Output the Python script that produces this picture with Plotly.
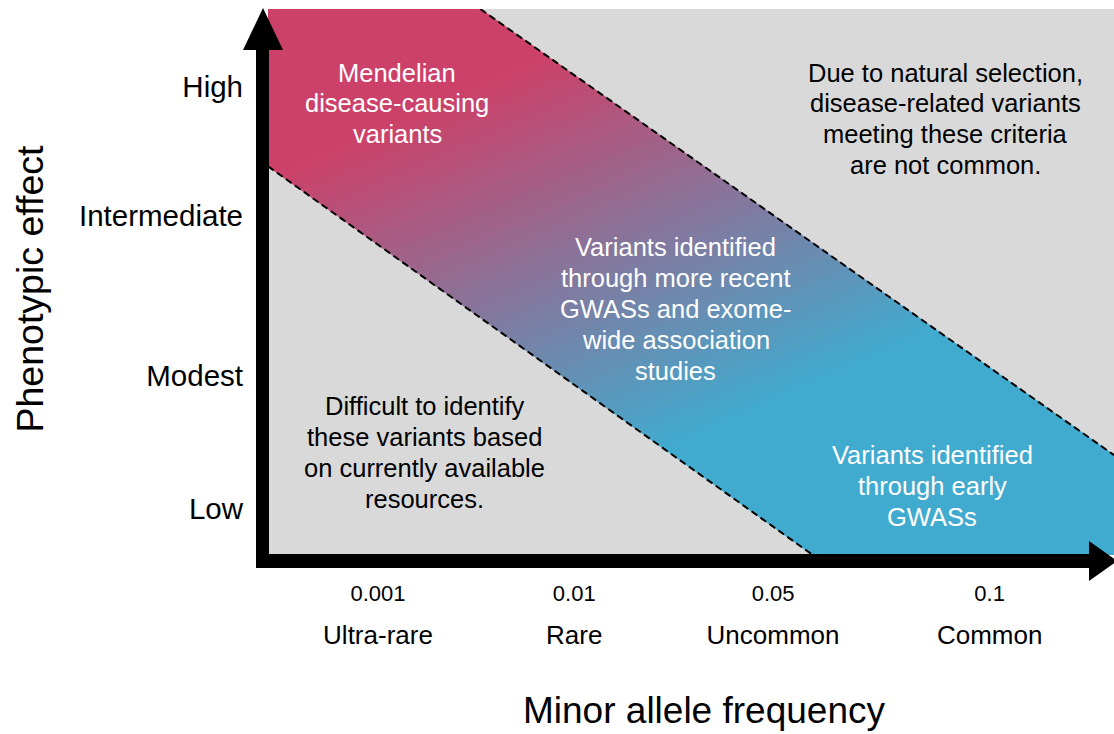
import plotly.graph_objects as go

# ---------------- data ----------------
freq_ticks = ["0.001", "0.01", "0.05", "0.1"]
freq_classes = ["Ultra-rare", "Rare", "Uncommon", "Common"]
effect_levels = ["Low", "Modest", "Intermediate", "High"]

# positions on the (0..1) conceptual axes
freq_pos = [0.130, 0.362, 0.597, 0.853]
effect_pos = [0.084, 0.328, 0.621, 0.857]

# band boundaries (conceptual axis units)
upper_x = [0.251, 1.0]
upper_y = [1.0, 0.183]
lower_x = [0.0, 0.644]
lower_y = [0.712, 0.0]

band_labels = [
    ["Mendelian", "disease-causing", "variants"],
    ["Variants identified", "through more recent", "GWASs and exome-", "wide association", "studies"],
    ["Variants identified", "through early", "GWASs"],
]
band_label_x = [0.1525, 0.482, 0.785]
band_label_y = [0.827, 0.4505, 0.126]

outside_labels = [
    ["Due to natural selection,", "disease-related variants", "meeting these criteria", "are not common."],
    ["Difficult to identify", "these variants based", "on currently available", "resources."],
]
outside_label_x = [0.801, 0.185]
outside_label_y = [0.799, 0.1877]

x_title = "Minor allele frequency"
y_title = "Phenotypic effect"

# ---------------- style ----------------
FONT = "Liberation Sans, Arial, sans-serif"
PINK = (204, 65, 105)
CYAN = (65, 171, 207)
GRAY = "#D9D9D9"
TXT = 25.5
LINE_GAP = 30.8
# diagonal colour gradient (pixel space, y downward): t = GA*x + GB*y + GC
GA, GB, GC = 0.000985, 0.00224, -0.665
NSTEP = 60

L, T, R, B = 268, 9, 0, 179
W, H = 1114, 734
PW, PH = W - L - R, H - T - B


def px(x):
    return (x - L) / PW


def py(y):
    return (H - B - y) / PH


def to_pix(p):
    return (L + p[0] * PW, H - B - p[1] * PH)


def to_data(p):
    return (px(p[0]), py(p[1]))


def clip(poly, f):
    out = []
    n = len(poly)
    for i in range(n):
        P, Q = poly[i], poly[(i + 1) % n]
        fp, fq = f(P), f(Q)
        if fp >= 0:
            out.append(P)
        if (fp >= 0) != (fq >= 0):
            r = fp / (fp - fq)
            out.append((P[0] + r * (Q[0] - P[0]), P[1] + r * (Q[1] - P[1])))
    return out


def mix(t):
    t = min(max(t, 0.0), 1.0)
    c = [round(PINK[i] + (CYAN[i] - PINK[i]) * t) for i in range(3)]
    return f"rgb({c[0]},{c[1]},{c[2]})"


fig = go.Figure()

# gradient band drawn as thin colour steps clipped to the band
band = [(0.0, 1.0), (upper_x[0], upper_y[0]), (upper_x[1], upper_y[1]), (1.0, 0.0),
        (lower_x[1], lower_y[1]), (lower_x[0], lower_y[0])]
band_pix = [to_pix(p) for p in band]


def tval(p):
    return GA * p[0] + GB * p[1] + GC


edges = [-1e9] + [k / NSTEP for k in range(NSTEP + 1)] + [1e9]
for k in range(len(edges) - 1):
    lo, hi = edges[k], edges[k + 1]
    poly = clip(band_pix, lambda p, lo=lo: tval(p) - lo)
    poly = clip(poly, lambda p, hi=hi: hi - tval(p))
    if len(poly) < 3:
        continue
    mid = 0.0 if lo < -1 else (1.0 if hi > 2 else (lo + hi) / 2)
    col = mix(mid)
    pts = [to_data(p) for p in poly]
    fig.add_trace(go.Scatter(
        x=[p[0] for p in pts] + [pts[0][0]], y=[p[1] for p in pts] + [pts[0][1]],
        mode="lines", fill="toself", fillcolor=col,
        line=dict(width=1, color=col),
        hoverinfo="skip", showlegend=False,
    ))

# dashed boundaries
for xs, ys in [(upper_x, upper_y), (lower_x, lower_y)]:
    fig.add_trace(go.Scatter(
        x=xs, y=ys, mode="lines",
        line=dict(color="black", width=2, dash="7px,4px"),
        hoverinfo="skip", showlegend=False,
    ))

# invisible trace to anchor the second x axis
fig.add_trace(go.Scatter(x=[0.5], y=[0.5], xaxis="x2", mode="markers",
                         marker=dict(opacity=0), hoverinfo="skip", showlegend=False))


def add_block(lines, x, y, color):
    n = len(lines)
    for i, line in enumerate(lines):
        dy = ((n - 1) / 2 - i) * LINE_GAP / PH
        fig.add_annotation(x=x, y=y + dy, text=line, showarrow=False,
                           xanchor="center", yanchor="middle",
                           font=dict(family=FONT, size=TXT, color=color))


for t, x, y in zip(band_labels, band_label_x, band_label_y):
    add_block(t, x, y, "white")
for t, x, y in zip(outside_labels, outside_label_x, outside_label_y):
    add_block(t, x, y, "black")

# axis titles
fig.add_annotation(xref="paper", yref="paper", x=px(704), y=py(711), text=x_title,
                   showarrow=False, xanchor="center", yanchor="middle",
                   font=dict(family=FONT, size=37, color="black"))
fig.add_annotation(xref="paper", yref="paper", x=px(29), y=py(288.5), text=y_title,
                   showarrow=False, xanchor="center", yanchor="middle", textangle=-90,
                   font=dict(family=FONT, size=37.5, color="black"))

# arrow axes
shapes = [
    dict(type="rect", xref="paper", yref="paper", x0=px(256), x1=px(269),
         y0=py(568), y1=py(48), fillcolor="black", line=dict(width=0), layer="above"),
    dict(type="rect", xref="paper", yref="paper", x0=px(256), x1=px(1092),
         y0=py(568), y1=py(554), fillcolor="black", line=dict(width=0), layer="above"),
    dict(type="path", xref="paper", yref="paper",
         path=f"M {px(243)},{py(50)} L {px(283)},{py(50)} L {px(263)},{py(8)} Z",
         fillcolor="black", line=dict(width=0), layer="above"),
    dict(type="path", xref="paper", yref="paper",
         path=f"M {px(1089)},{py(541)} L {px(1089)},{py(581)} L {px(1117)},{py(561)} Z",
         fillcolor="black", line=dict(width=0), layer="above"),
]

fig.update_layout(
    width=W, height=H,
    margin=dict(l=L, r=R, t=T, b=B, autoexpand=False),
    paper_bgcolor="white", plot_bgcolor=GRAY,
    font=dict(family=FONT, color="black"),
    shapes=shapes,
    xaxis=dict(range=[0, 1], showgrid=False, zeroline=False, showline=False,
               tickvals=freq_pos, ticktext=freq_ticks, ticks="",
               tickfont=dict(family=FONT, size=22, color="black"),
               ticklabelstandoff=23, fixedrange=True),
    xaxis2=dict(range=[0, 1], overlaying="x", anchor="y", side="bottom",
                showgrid=False, zeroline=False, showline=False,
                tickvals=freq_pos, ticktext=freq_classes, ticks="",
                tickfont=dict(family=FONT, size=26, color="black"),
                ticklabelstandoff=62, fixedrange=True),
    yaxis=dict(range=[0, 1], showgrid=False, zeroline=False, showline=False,
               tickvals=effect_pos, ticktext=effect_levels, ticks="",
               tickfont=dict(family=FONT, size=29.5, color="black"),
               ticklabelstandoff=24, fixedrange=True),
)

fig.write_html("out.html", config={"displayModeBar": False},
               post_script="document.body.style.margin='0px';")
